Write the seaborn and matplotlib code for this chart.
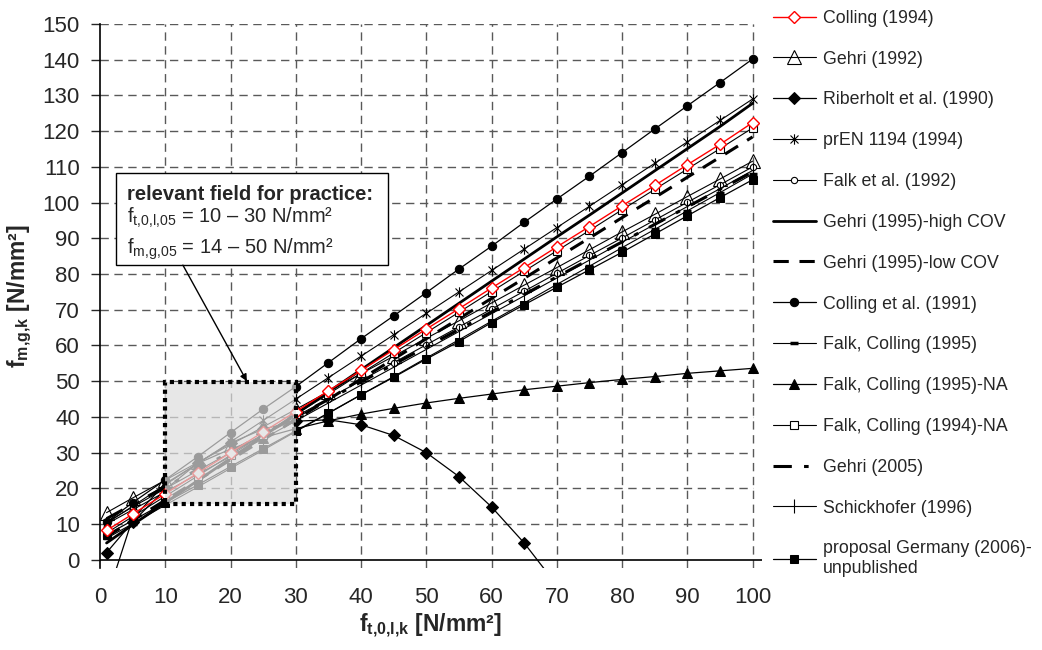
import numpy as np
import seaborn as sns
import matplotlib
matplotlib.use("Agg")
import matplotlib.pyplot as plt
from matplotlib.path import Path
from matplotlib.patches import Rectangle

sns.set_style("white")
plt.rcParams['font.family'] = ['Liberation Sans', 'DejaVu Sans']
plt.rcParams['mathtext.fontset'] = 'custom'
plt.rcParams['mathtext.rm'] = 'Liberation Sans'
plt.rcParams['mathtext.it'] = 'Liberation Sans:italic'
plt.rcParams['mathtext.bf'] = 'Liberation Sans:bold'

# tensile strength of lamellas (x)
ft = [1, 5, 10, 15, 20, 25, 30, 35, 40, 45, 50, 55, 60, 65, 70, 75, 80, 85, 90, 95, 100]

colling_1994 = [8.2, 12.8, 18.5, 24.3, 30.0, 35.8, 41.5, 47.3, 53.0, 58.8, 64.6, 70.3, 76.1, 81.8, 87.6,
                93.3, 99.1, 104.8, 110.6, 116.3, 122.4]
gehri_1992 = [13.2, 17.3, 22.3, 27.3, 32.2, 37.2, 42.1, 47.1, 52.1, 57.0, 62.0, 66.9, 71.9, 76.9, 81.8,
              86.8, 91.8, 96.7, 101.7, 106.6, 111.6]
riberholt_1990 = [2.0, 10.6, 19.7, 27.1, 32.7, 36.6, 38.8, 39.2, 37.8, 34.8, 30.0, 23.3, 14.8, 4.7, -7.1,
                  np.nan, np.nan, np.nan, np.nan, np.nan, np.nan]
pren_1194 = [10.2, 15.0, 21.0, 27.0, 33.0, 39.0, 45.0, 51.0, 57.0, 63.0, 69.0, 75.0, 81.0, 87.0, 93.0,
             99.0, 105.0, 111.0, 117.0, 123.0, 129.0]
falk_1992 = [10.5, 14.8, 19.9, 25.0, 30.0, 35.1, 40.1, 45.1, 50.2, 55.2, 60.2, 65.2, 70.2, 75.2, 80.2,
             85.2, 90.1, 95.1, 100.1, 105.0, 110.0]
gehri_1995_high = [4.7, 9.8, 16.0, 22.2, 28.4, 34.6, 40.8, 47.0, 53.2, 59.4, 65.6, 71.8, 78.0, 84.2, 90.4,
                   96.5, 102.7, 108.9, 115.1, 121.3, 127.8]
gehri_1995_low = [6.5, 11.0, 16.7, 22.3, 28.0, 33.6, 39.3, 44.9, 50.6, 56.2, 61.9, 67.5, 73.2, 78.8, 84.5,
                  90.1, 95.8, 101.4, 107.1, 112.7, 118.4]
colling_1991 = [10.5, 16.0, 22.4, 28.9, 35.6, 42.2, 48.5, 55.2, 61.9, 68.3, 74.8, 81.4, 87.8, 94.5, 101.0,
                107.4, 114.0, 120.6, 127.1, 133.6, 140.2]
falk_colling_1995 = [6.0, 10.1, 15.3, 20.4, 25.6, 30.7, 35.9, 41.0, 46.2, 51.3, 56.5, 61.6, 66.8, 71.9, 77.1,
                     82.2, 87.4, 92.5, 97.7, 102.8, 108.0]
falk_colling_1995_na = [-10.9, 11.6, 21.3, 27.0, 31.0, 34.2, 36.7, 38.9, 40.8, 42.4, 43.9, 45.2, 46.4, 47.6,
                        48.6, 49.6, 50.5, 51.3, 52.2, 52.9, 53.6]
falk_colling_1994_na = [7.5, 12.1, 17.8, 23.5, 29.3, 35.0, 40.7, 46.4, 52.2, 57.9, 63.6, 69.3, 75.1, 80.8,
                        86.5, 92.2, 98.0, 103.7, 109.4, 115.1, 120.9]
gehri_2005 = [11.5, 15.5, 20.4, 25.3, 30.2, 35.1, 40.0, 44.9, 49.8, 54.7, 59.6, 64.5, 69.4, 74.3, 79.2,
              84.1, 89.0, 93.9, 98.8, 103.7, 108.6]
schickhofer_1996 = [10.0, 14.0, 19.0, 24.0, 28.9, 33.9, 38.9, 43.9, 48.9, 53.9, 58.9, 63.9, 68.9, 73.9,
                    78.9, 83.9, 88.9, 93.9, 98.9, 103.9, 109.0]
germany_2006 = [7.0, 11.0, 16.0, 21.0, 26.1, 31.1, 36.1, 41.1, 46.2, 51.1, 56.2, 61.1, 66.4, 71.4, 76.3,
                81.2, 86.1, 91.2, 96.3, 101.4, 106.4]

x_ticks = list(range(0, 101, 10))
y_ticks = list(range(0, 151, 10))

# excel style star marker: x plus vertical bar
star = Path([(-1, -1), (1, 1), (-1, 1), (1, -1), (0, -1.3), (0, 1.3)],
            [Path.MOVETO, Path.LINETO, Path.MOVETO, Path.LINETO, Path.MOVETO, Path.LINETO])

series = [
    ("Colling (1994)", colling_1994, dict(color='red', marker='D', markersize=6.5, markerfacecolor='white',
                                          markeredgecolor='red', markeredgewidth=1, linewidth=1, zorder=5)),
    ("Gehri (1992)", gehri_1992, dict(color='black', marker='^', markersize=9.5, markerfacecolor='none',
                                      markeredgecolor='black', markeredgewidth=0.8, linewidth=0.8)),
    ("Riberholt et al. (1990)", riberholt_1990, dict(color='black', marker='D', markersize=6,
                                                    markerfacecolor='black', markeredgecolor='black',
                                                    linewidth=0.9)),
    ("prEN 1194 (1994)", pren_1194, dict(color='black', marker=star, markersize=7.5, markerfacecolor='none',
                                         markeredgecolor='black', markeredgewidth=0.8, linewidth=0.8)),
    ("Falk et al. (1992)", falk_1992, dict(color='black', marker='o', markersize=4.5, markerfacecolor='white',
                                           markeredgecolor='black', markeredgewidth=0.8, linewidth=0.8)),
    ("Gehri (1995)-high COV", gehri_1995_high, dict(color='black', linewidth=2)),
    ("Gehri (1995)-low COV", gehri_1995_low, dict(color='black', linewidth=2.2, linestyle=(0, (5, 3.5)))),
    ("Colling et al. (1991)", colling_1991, dict(color='black', marker='o', markersize=6,
                                                 markerfacecolor='black', markeredgecolor='black',
                                                 linewidth=0.9)),
    ("Falk, Colling (1995)", falk_colling_1995, dict(color='black', marker='_', markersize=6,
                                                     markeredgecolor='black', markeredgewidth=2.5,
                                                     linewidth=0.8)),
    ("Falk, Colling (1995)-NA", falk_colling_1995_na, dict(color='black', marker='^', markersize=6.5,
                                                           markerfacecolor='black', markeredgecolor='black',
                                                           linewidth=0.9)),
    ("Falk, Colling (1994)-NA", falk_colling_1994_na, dict(color='black', marker='s', markersize=6,
                                                           markerfacecolor='white', markeredgecolor='black',
                                                           markeredgewidth=0.8, linewidth=0.8)),
    ("Gehri (2005)", gehri_2005, dict(color='black', linewidth=2.2, linestyle=(0, (6, 4, 1.5, 4)))),
    ("Schickhofer (1996)", schickhofer_1996, dict(color='black', marker='|', markersize=10,
                                                  markeredgecolor='black', markeredgewidth=0.8,
                                                  linewidth=0.8)),
    ("proposal Germany (2006)-\nunpublished", germany_2006, dict(color='black', marker='s', markersize=5.5,
                                                                markerfacecolor='black',
                                                                markeredgecolor='black', linewidth=0.9)),
]

fig = plt.figure(figsize=(10.42, 6.5), dpi=100)
ax = fig.add_axes([0.096, 0.126, 0.635, 0.837])

y_bottom = -2.33
x_right = 101.4

# dashed grid, stops at x = 100 like the excel chart
ax.hlines(y_ticks[1:], 0, 100, colors='0.35', linewidth=1, linestyles=(0, (6, 4)), zorder=0)
ax.vlines(x_ticks[1:], y_bottom, 150, colors='0.35', linewidth=1, linestyles=(0, (6, 4)), zorder=0)
ax.axhline(0, color='black', linewidth=1.2, zorder=1)

for name, vals, kw in series:
    kw = dict(kw)
    kw.setdefault('zorder', 3)
    sns.lineplot(x=ft, y=vals, ax=ax, label=name, errorbar=None, **kw)

# relevant field box
ax.add_patch(Rectangle((10, 15.6), 20, 34.3, facecolor=(0.87, 0.87, 0.87, 0.7), edgecolor='none', zorder=6))
ax.add_patch(Rectangle((10, 15.6), 20, 34.3, facecolor='none', edgecolor='black', linewidth=3,
                       linestyle=(0, (1, 1)), zorder=7))

# annotation box with text
ax.add_patch(Rectangle((2.4, 82.5), 41.7, 25.9, facecolor='white', edgecolor='black', linewidth=1, zorder=8))
ax.text(4.1, 102.2, "relevant field for practice:", fontsize=14.5, fontweight='bold',
        va='center', ha='left', zorder=9)
ax.text(4.1, 95.7, "f$_{\\mathrm{t{,}0{,}l{,}05}}$ = 10 – 30 N/mm²", fontsize=14.5,
        va='center', ha='left', zorder=9)
ax.text(4.1, 87.0, "f$_{\\mathrm{m{,}g{,}05}}$ = 14 – 50 N/mm²", fontsize=14.5,
        va='center', ha='left', zorder=9)
ax.annotate('', xy=(22.5, 50), xytext=(12.7, 82.5),
            arrowprops=dict(arrowstyle='-|>', color='black', lw=1, mutation_scale=10, shrinkA=0, shrinkB=0),
            zorder=8)

ax.set_xlim(0, x_right)
ax.set_ylim(y_bottom, 150)
ax.set_xticks(x_ticks)
ax.set_yticks(y_ticks)
ax.tick_params(axis='x', length=0, pad=13.5, labelsize=16)
ax.tick_params(axis='y', direction='out', length=6.5, width=1, pad=8, labelsize=16, left=True)

for side in ['top', 'right', 'bottom']:
    ax.spines[side].set_visible(False)
ax.spines['left'].set_color('black')
ax.spines['left'].set_linewidth(1.2)

ax.set_xlabel("$\\mathbf{f_{t{,}0{,}l{,}k}}$ [N/mm²]", fontsize=16.5, fontweight='bold', labelpad=3)
ax.set_ylabel("$\\mathbf{f_{m{,}g{,}k}}$ [N/mm²]", fontsize=16.5, fontweight='bold', labelpad=6)

ax.legend(loc='upper left', bbox_to_anchor=(0.742, 0.985), bbox_transform=fig.transFigure,
          frameon=False, fontsize=12.8, borderpad=0, borderaxespad=0, handlelength=2.4,
          handletextpad=0.4, labelspacing=1.34)

plt.savefig('out.png', dpi=100)
